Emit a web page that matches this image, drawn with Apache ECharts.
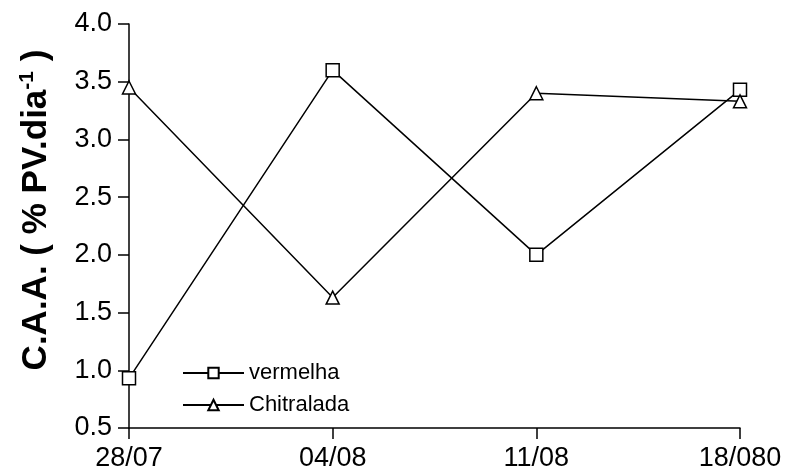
<!DOCTYPE html>
<html>
<head>
<meta charset="utf-8">
<script src="https://cdn.jsdelivr.net/npm/echarts@6/dist/echarts.min.js"></script>
<style>
  html, body { margin: 0; padding: 0; background: #fff; }
  #chart { width: 786px; height: 472px; }
</style>
</head>
<body>
<div id="chart"></div>
<script>
// dados
const dates = ['28/07', '04/08', '11/08', '18/080'];
const vermelha = [0.93, 3.60, 2.0, 3.43];
const chitralada = [3.45, 1.63, 3.40, 3.33];
const yTicks = [0.5, 4.0, 0.5]; // min, max, interval

const FONT = 'Liberation Sans, Arial, sans-serif';
const chart = echarts.init(document.getElementById('chart'));

const lineSeries = (name, symbol, data) => ({
    name: name,
    type: 'line',
    data: data,
    symbol: symbol,
    symbolSize: 13,
    showAllSymbol: true,
    lineStyle: { color: '#000', width: 1.5 },
    itemStyle: { color: '#fff', borderColor: '#000', borderWidth: 1.5 },
    emphasis: { disabled: true }
});

chart.setOption({
    animation: false,
    backgroundColor: '#fff',
    textStyle: { fontFamily: FONT, color: '#000' },
    grid: { left: 129, right: 46, top: 24, bottom: 41, containLabel: false },
    legend: {
        orient: 'vertical',
        left: 182,
        top: 362,
        padding: 0,
        itemWidth: 61,
        itemHeight: 13,
        itemGap: 10,
        textStyle: { fontSize: 22, color: '#000', fontFamily: FONT },
        data: ['vermelha', 'Chitralada']
    },
    xAxis: {
        type: 'category',
        data: dates,
        boundaryGap: false,
        axisLine: { lineStyle: { color: '#000', width: 1.5 } },
        axisTick: { alignWithLabel: true, length: 11, lineStyle: { color: '#000', width: 1.5 } },
        axisLabel: { fontSize: 27, color: '#000', margin: 17, interval: 0 },
        splitLine: { show: false }
    },
    yAxis: {
        type: 'value',
        min: yTicks[0],
        max: yTicks[1],
        interval: yTicks[2],
        name: '{b|C.A.A. ( % PV.dia}{s|-1}{b| )}',
        nameLocation: 'middle',
        nameRotate: 90,
        nameGap: 74,
        nameTextStyle: {
            padding: [0, 0, 0, 32],
            rich: {
                b: { fontSize: 35, fontWeight: 'bold', color: '#000', fontFamily: FONT },
                s: { fontSize: 21, fontWeight: 'bold', color: '#000', verticalAlign: 'bottom', padding: [0, 0, 17, 0], fontFamily: FONT }
            }
        },
        axisLine: { show: true, lineStyle: { color: '#000', width: 1.5 } },
        axisTick: { show: true, length: 11, lineStyle: { color: '#000', width: 1.5 } },
        axisLabel: { fontSize: 27, color: '#000', margin: 17, formatter: v => v.toFixed(1) },
        splitLine: { show: false }
    },
    series: [
        lineSeries('vermelha', 'rect', vermelha),
        lineSeries('Chitralada', 'triangle', chitralada)
    ]
});
</script>
</body>
</html>
